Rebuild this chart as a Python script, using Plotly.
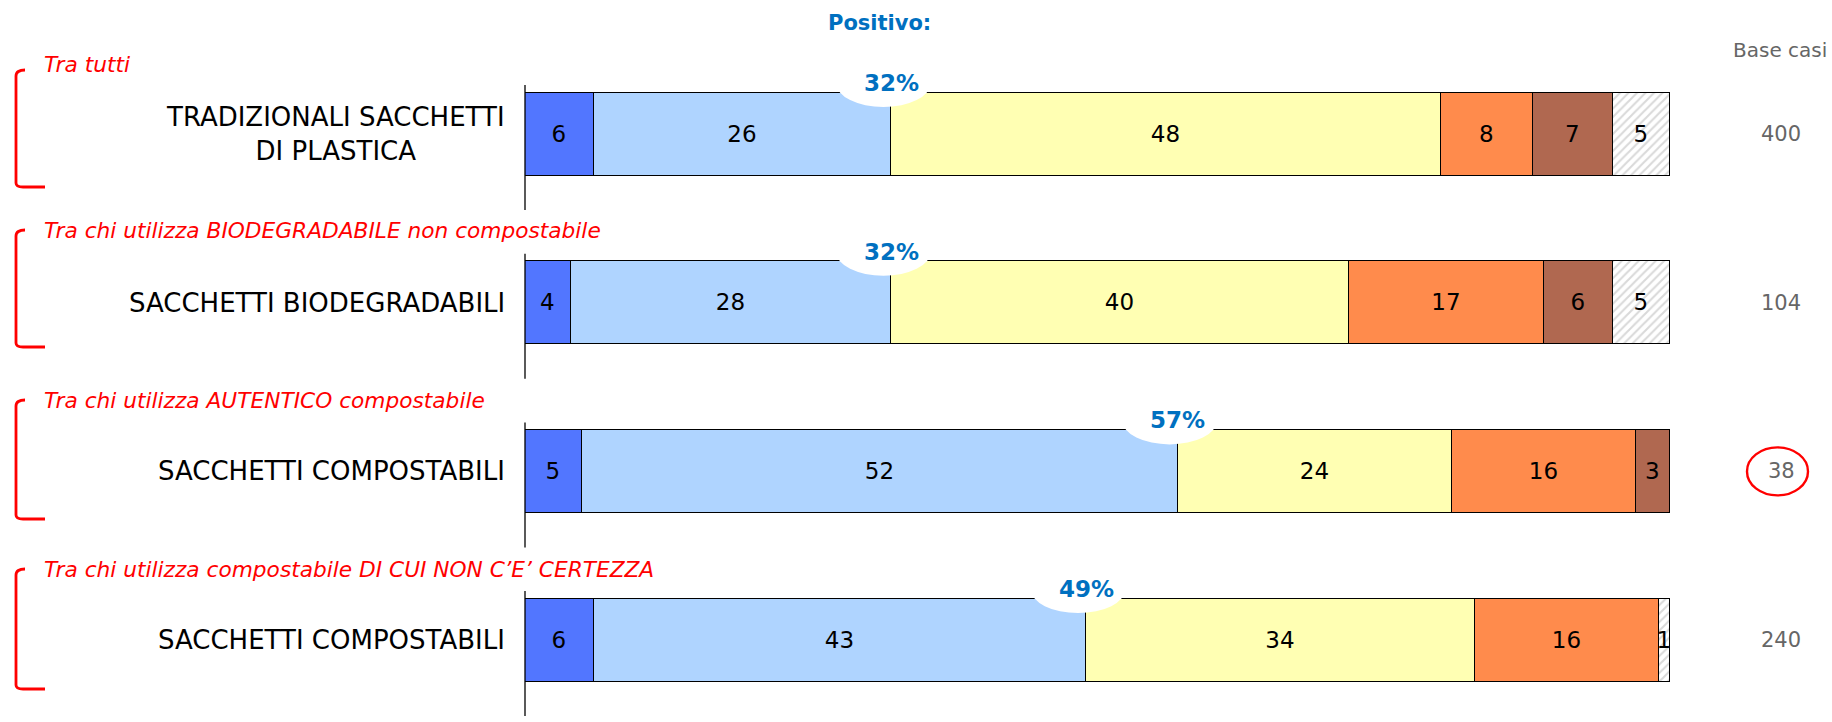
import plotly.graph_objects as go

# ---------------- data ----------------
categories = ["TRADIZIONALI SACCHETTI<br>DI PLASTICA", "SACCHETTI BIODEGRADABILI",
              "SACCHETTI COMPOSTABILI", "SACCHETTI COMPOSTABILI"]
subtitles = ["Tra tutti", "Tra chi utilizza BIODEGRADABILE non compostabile",
             "Tra chi utilizza AUTENTICO compostabile",
             "Tra chi utilizza compostabile DI CUI NON C\u2019E\u2019 CERTEZZA"]
molto_pos = [6, 4, 5, 6]
abbastanza_pos = [26, 28, 52, 43]
neutro = [48, 40, 24, 34]
abbastanza_neg = [8, 17, 16, 16]
molto_neg = [7, 6, 3, 0]
non_sa = [5, 5, 0, 1]
positivo = [32, 32, 57, 49]
base_casi = [400, 104, 38, 240]
highlight_row = 2

# ---------------- layout constants ----------------
W, H = 1832, 722
ML = 525
PW = 1145
MR = W - ML - PW
ROW0_PX, ROW_STEP = 134, 168.7
y_top = -ROW0_PX / ROW_STEP
y_bot = (H - ROW0_PX) / ROW_STEP
FONT = "DejaVu Sans"


def PX(px):
    return (px - ML) / PW


def PY(py):
    return 1 - py / H


rows = list(range(len(categories)))
series = [
    (molto_pos, "#5276ff", None),
    (abbastanza_pos, "#afd4ff", None),
    (neutro, "#ffffb3", None),
    (abbastanza_neg, "#ff8b4c", None),
    (molto_neg, "#b06850", None),
    (non_sa, "white", dict(shape="/", fgcolor="#b4b4b4", bgcolor="white", size=6, solidity=0.35)),
]

fig = go.Figure()
for vals, color, pattern in series:
    marker = dict(color=color, line=dict(color="black", width=1.2))
    if pattern:
        marker["pattern"] = pattern
    fig.add_trace(go.Bar(
        x=vals, y=rows, orientation="h", width=0.492,
        marker=marker,
        text=[str(v) if v else "" for v in vals],
        textposition="inside", insidetextanchor="middle",
        constraintext="none", textangle=0,
        textfont=dict(family=FONT, size=23, color="black"),
        hoverinfo="skip", showlegend=False,
    ))

shapes = []
annotations = []

# vertical axis segments
for i in rows:
    shapes.append(dict(type="line", xref="paper", yref="y", x0=0, x1=0,
                       y0=i - 49 / ROW_STEP, y1=i + 76 / ROW_STEP,
                       line=dict(color="black", width=1.3), layer="above"))

# positive bubbles and labels
for i in rows:
    shapes.append(dict(type="circle", xref="x", yref="y",
                       xsizemode="pixel", ysizemode="pixel",
                       xanchor=positivo[i], yanchor=i,
                       x0=-55, x1=39, y0=27, y1=74,
                       fillcolor="white", line=dict(width=0), layer="above"))
    annotations.append(dict(xref="x", yref="y", x=positivo[i], y=i, yshift=51,
                            xanchor="center", yanchor="middle",
                            text=f"<b>{positivo[i]}%</b>", showarrow=False,
                            font=dict(family=FONT, size=23, color="#0070c0")))

# category labels
for i in rows:
    annotations.append(dict(xref="x", yref="y", x=0, y=i, xanchor="right", xshift=-18,
                            yanchor="middle",
                            text=categories[i], showarrow=False, align="center",
                            font=dict(family=FONT, size=26, color="black")))

# subtitles and brackets
sub_py = [64, 231, 400, 569]
br_top = [70, 230, 400, 569]
br_bot = [187, 347, 519, 689]
for i in rows:
    annotations.append(dict(xref="paper", yref="paper", x=PX(42), y=PY(sub_py[i]),
                            xanchor="left", yanchor="middle", text=f"<i>{subtitles[i]}</i>",
                            showarrow=False,
                            font=dict(family=FONT, size=21.7, color="#ff0000")))
    t, b = br_top[i], br_bot[i]
    path = (f"M {PX(25)},{PY(t)} Q {PX(16)},{PY(t)} {PX(16)},{PY(t + 6)} "
            f"L {PX(16)},{PY(b - 4)} Q {PX(16)},{PY(b)} {PX(23)},{PY(b)} L {PX(45)},{PY(b)}")
    shapes.append(dict(type="path", xref="paper", yref="paper", path=path,
                       line=dict(color="#ff0000", width=2.8)))

# header and base
annotations.append(dict(xref="paper", yref="paper", x=PX(879), y=PY(23),
                        xanchor="center", yanchor="middle",
                        text="<b>Positivo:</b>", showarrow=False,
                        font=dict(family=FONT, size=21, color="#0070c0")))
annotations.append(dict(xref="paper", yref="paper", x=PX(1731), y=PY(50),
                        xanchor="left", yanchor="middle",
                        text="Base casi", showarrow=False,
                        font=dict(family=FONT, size=20, color="#666666")))
for i in rows:
    annotations.append(dict(xref="paper", yref="y", x=PX(1781), y=i,
                            xanchor="center", yanchor="middle",
                            text=str(base_casi[i]), showarrow=False,
                            font=dict(family=FONT, size=21, color="#666666")))
shapes.append(dict(type="circle", xref="paper", yref="y", ysizemode="pixel",
                   yanchor=highlight_row, x0=PX(1747), x1=PX(1808), y0=-24, y1=24,
                   line=dict(color="#ff0000", width=2.4)))

fig.update_layout(
    width=W, height=H, barmode="stack", bargap=0,
    margin=dict(l=ML, r=MR, t=0, b=0, pad=0),
    plot_bgcolor="white", paper_bgcolor="white",
    xaxis=dict(range=[0, 100], visible=False, fixedrange=True),
    yaxis=dict(range=[y_bot, y_top], visible=False, fixedrange=True),
    shapes=shapes, annotations=annotations, showlegend=False,
    font=dict(family=FONT),
)

fig.write_html("out.html", config={"displayModeBar": False},
               post_script="document.body.style.margin='0';")
